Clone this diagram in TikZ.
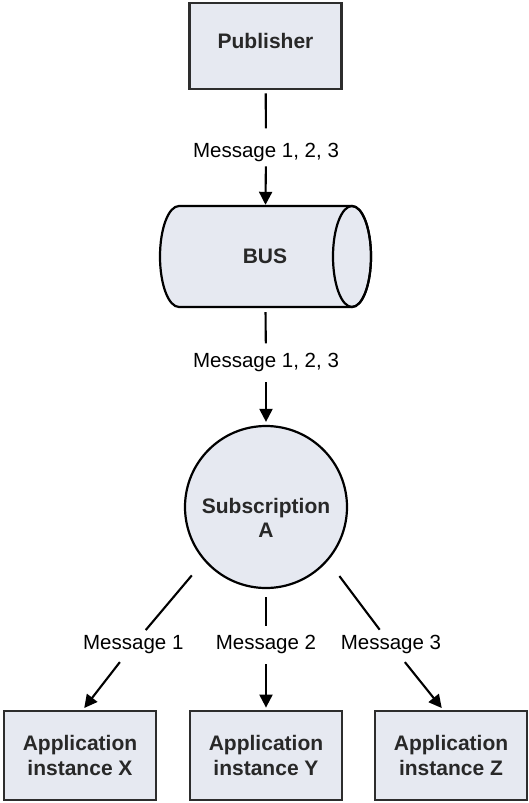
\documentclass[tikz,border=0pt]{standalone}
\usepackage{fontspec}
\setmainfont{Liberation Sans}
\usetikzlibrary{arrows.meta}
\definecolor{boxfill}{RGB}{230,233,241}
\definecolor{edgegray}{RGB}{45,45,45}
\definecolor{txtgray}{RGB}{40,40,40}
\begin{document}
\begin{tikzpicture}[x=1pt,y=-1pt,
  font=\fontsize{20.5}{24}\selectfont,
  boldtext/.style={font=\fontsize{21}{24.5}\selectfont\bfseries, text=txtgray, align=center},
  boxnode/.style={boldtext, draw=edgegray, line width=2.8pt, fill=boxfill,
    minimum width=152pt, minimum height=89pt, inner sep=0pt},
  msg/.style={inner sep=0pt, text=black},
  conn/.style={line width=2.1pt, draw=black},
  arr/.style={conn, -{Triangle[length=13pt,width=13pt]}},
]
\useasboundingbox (0,0) rectangle (529,803);
\fill[white] (0,0) rectangle (529,803);

% nodes
\node[boxnode, minimum height=86pt, text depth=10pt] (pub) at (265.5,46) {Publisher};

\path[draw=black, line width=2.2pt, fill=boxfill]
  (179,206) -- (352,206)
  arc[start angle=90, end angle=-90, x radius=19pt, y radius=50.5pt]
  -- (179,307)
  arc[start angle=270, end angle=90, x radius=19pt, y radius=50.5pt]
  -- cycle;
\draw[line width=2.2pt] (352,256.5) ellipse[x radius=19pt, y radius=50.5pt];
\node[boldtext, minimum width=210pt, minimum height=101pt, inner sep=0pt] (bus) at (265,256.5) {BUS};

\node[circle, draw=black, line width=2.2pt, fill=boxfill, minimum size=162pt, inner sep=0pt] (sub) at (266,507) {};
\node[boldtext, inner sep=0pt] (subtxt) at (266,518) {Subscription\\A};

\node[boxnode] (appx) at (80,755.5) {Application\\instance X};
\node[boxnode] (appy) at (266,755.5) {Application\\instance Y};
\node[boxnode] (appz) at (451,755.5) {Application\\instance Z};

% labels
\node[msg] (m0) at (266,152.8) {Message 1, 2, 3};
\node[msg] (m00) at (266,362.8) {Message 1, 2, 3};
\node[msg] (m1) at (133.3,644.8) {Message 1};
\node[msg] (m2) at (266,644.8) {Message 2};
\node[msg] (m3) at (391,644.8) {Message 3};

% connectors
\draw[conn, shorten <=3pt, shorten >=15pt] (pub) -- (m0);
\draw[arr, shorten <=4pt, shorten >=1pt] (m0) -- (bus);
\draw[conn, shorten <=5pt, shorten >=10pt] (bus) -- (m00);
\draw[arr, shorten <=10pt, shorten >=3pt] (m00) -- (sub);

\draw[conn, shorten <=19pt, shorten >=7pt] (sub.221) -- (m1);
\draw[arr, shorten <=10pt, shorten >=2pt] (m1) -- ([xshift=3pt]appx.north);
\draw[conn, shorten <=8pt, shorten >=9pt] (sub) -- (m2);
\draw[arr, shorten <=10pt, shorten >=2pt] (m2) -- (appy);
\draw[conn, shorten <=19pt, shorten >=7pt] (sub.-41) -- (m3);
\draw[arr, shorten <=10pt, shorten >=2pt] (m3) -- ([xshift=-8pt]appz.north);
\end{tikzpicture}
\end{document}
